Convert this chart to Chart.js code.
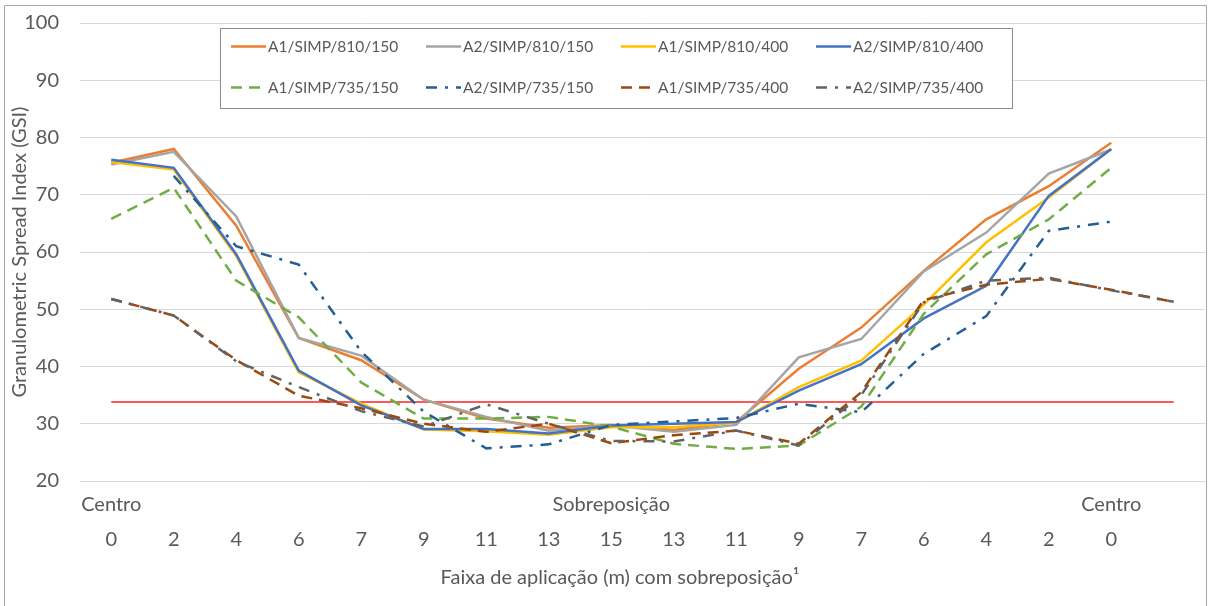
<!DOCTYPE html>
<html><head><meta charset="utf-8">
<script src="https://cdn.jsdelivr.net/npm/chart.js@4.4.0/dist/chart.umd.min.js"></script>
<style>html,body{margin:0;padding:0;background:#fff;overflow:hidden;} #wrap{position:absolute;left:0;top:0;width:1208px;height:606px;}</style>
</head><body><div id="wrap"><canvas id="c" width="1208" height="606"></canvas></div>
<script>
const xNumbers = ['0','2','4','6','7','9','11','13','15','13','11','9','7','6','4','2','0',''];
const xGroups  = ['Centro','','','','','','','','Sobreposição','','','','','','','','Centro',''];
const seriesNames = ['A1/SIMP/810/150','A2/SIMP/810/150','A1/SIMP/810/400','A2/SIMP/810/400',
                     'A1/SIMP/735/150','A2/SIMP/735/150','A1/SIMP/735/400','A2/SIMP/735/400'];
const a1_810_150 = [75.6, 78.0, 64.6, 45.0, 41.1, 34.2, 30.9, 29.3, 29.8, 28.9, 30.3, 39.6, 46.8, 56.7, 65.7, 71.5, 79.1, null];
const a2_810_150 = [75.3, 77.5, 66.2, 45.0, 41.9, 34.2, 31.2, 28.8, 29.7, 28.6, 29.8, 41.6, 44.8, 56.6, 63.4, 73.7, 77.9, null];
const a1_810_400 = [75.7, 74.4, 59.3, 39.0, 33.5, 29.0, 28.7, 28.1, 29.4, 29.4, 30.2, 36.4, 41.0, 50.8, 61.7, 69.5, 78.0, null];
const a2_810_400 = [76.1, 74.7, 59.6, 39.3, 33.2, 29.1, 29.1, 28.3, 29.7, 30.0, 30.3, 35.8, 40.4, 48.4, 54.1, 69.8, 78.0, null];
const a1_735_150 = [65.8, 71.2, 55.0, 48.6, 37.2, 30.9, 30.9, 31.2, 29.5, 26.5, 25.6, 26.2, 33.0, 49.2, 59.6, 65.7, 74.7, null];
const a2_735_150 = [null, 73.3, 61.0, 57.8, 42.6, 32.1, 25.7, 26.4, 29.8, 30.4, 31.0, 33.5, 32.0, 42.2, 48.8, 63.7, 65.3, null];
const a1_735_400 = [51.8, 48.9, 41.1, 34.9, 32.7, 30.0, 28.6, 30.0, 26.6, 28.0, 28.8, 26.5, 35.5, 51.6, 54.3, 55.3, 53.4, 51.3];
const a2_735_400 = [51.8, 48.9, 40.9, 36.4, 32.2, 29.5, 33.4, 30.0, 27.0, 26.9, 28.8, 26.2, 35.0, 51.2, 55.0, 55.5, 53.3, 51.3];
const referenceLine = [33.8, 33.8, 33.8, 33.8, 33.8, 33.8, 33.8, 33.8, 33.8, 33.8, 33.8, 33.8, 33.8, 33.8, 33.8, 33.8, 33.8, 33.8];
const yTicks = [20, 30, 40, 50, 60, 70, 80, 90, 100];

const seriesValues = [a1_810_150, a2_810_150, a1_810_400, a2_810_400, a1_735_150, a2_735_150, a1_735_400, a2_735_400];
const colors = ['#ED7D31','#A5A5A5','#FFC000','#4472C4','#70AD47','#255E91','#9E480E','#636363'];
const dashes = [[],[],[],[],[11,7],[11,8,3,8],[11,7],[11,8,3,8]];
const FONT = 'Lato, "Open Sans", sans-serif';
const TXT = '#595959';

const datasets = seriesValues.map((vals, i) => ({
  label: seriesNames[i], data: vals, borderColor: colors[i], backgroundColor: colors[i],
  borderWidth: 2.5, borderDash: dashes[i], pointRadius: 0, pointHoverRadius: 0,
  tension: 0, fill: false, spanGaps: false, order: 10 - i, borderCapStyle: 'butt'
}));
datasets.push({label: 'ref', data: referenceLine, borderColor: '#FF2020', borderWidth: 1.5,
  pointRadius: 0, fill: false, order: 20});

const frameAndLegend = {
  id: 'frameAndLegend',
  afterDraw(chart) {
    const ctx = chart.ctx;
    ctx.save();
    ctx.strokeStyle = '#a6a6a6'; ctx.lineWidth = 1; ctx.setLineDash([]);
    ctx.beginPath(); ctx.moveTo(4.5, 606); ctx.lineTo(4.5, 5.5); ctx.lineTo(1206.5, 5.5); ctx.lineTo(1206.5, 606); ctx.stroke();
    const bx = 220.5, by = 28.5, bw = 792, bh = 80;
    ctx.fillStyle = '#fff'; ctx.fillRect(bx, by, bw, bh);
    ctx.strokeStyle = '#8c8c8c'; ctx.strokeRect(bx, by, bw, bh);
    ctx.font = '15.5px ' + FONT; ctx.textBaseline = 'middle'; ctx.textAlign = 'left';
    for (let i = 0; i < 8; i++) {
      const ds = chart.data.datasets[i];
      const col = i % 4, row = Math.floor(i / 4);
      const sx = 231 + col * 195, sy = 46.5 + row * 41;
      ctx.strokeStyle = ds.borderColor; ctx.lineWidth = ds.borderWidth; ctx.setLineDash(ds.borderDash);
      ctx.lineCap = 'butt';
      ctx.beginPath(); ctx.moveTo(sx, sy); ctx.lineTo(sx + 35, sy); ctx.stroke();
      ctx.setLineDash([]);
      ctx.fillStyle = TXT; ctx.fillText(ds.label, sx + 37, sy);
    }
    ctx.restore();
  }
};

new Chart(document.getElementById('c'), {
  type: 'line',
  data: { labels: xNumbers.map((n, i) => [xGroups[i], n]), datasets },
  options: {
    responsive: false, animation: false, devicePixelRatio: 1,
    layout: { padding: { top: 23, right: 3, left: 0, bottom: 0 } },
    plugins: { legend: { display: false }, tooltip: { enabled: false } },
    scales: {
      x: {
        type: 'category', offset: true,
        grid: { display: false, drawTicks: false }, border: { display: false },
        ticks: { autoSkip: false, maxRotation: 0, color: TXT, padding: 6,
                 font: { family: FONT, size: 20, lineHeight: 1.75 } },
        title: { display: true, text: 'Faixa de aplicação (m) com sobreposição¹\u2003\u2003\u2003',
                 color: TXT, font: { family: FONT, size: 20 }, padding: { top: 0, bottom: 16 } },
        afterFit: (s) => { s.height = 125; }
      },
      y: {
        min: 20, max: 100,
        afterBuildTicks: (s) => { s.ticks = yTicks.map(v => ({ value: v })); },
        grid: { color: '#d9d9d9', lineWidth: 1, drawTicks: false }, border: { display: false },
        ticks: { color: TXT, padding: 21, font: { family: FONT, size: 20 } },
        title: { display: true, text: 'Granulometric Spread Index (GSI)', color: TXT,
                 font: { family: FONT, size: 20 }, padding: { top: 8, bottom: 0 } },
        afterFit: (s) => { s.width = 80; s.paddingTop = 0; s.paddingBottom = 0; }
      }
    }
  },
  plugins: [frameAndLegend]
});
</script></body></html>
